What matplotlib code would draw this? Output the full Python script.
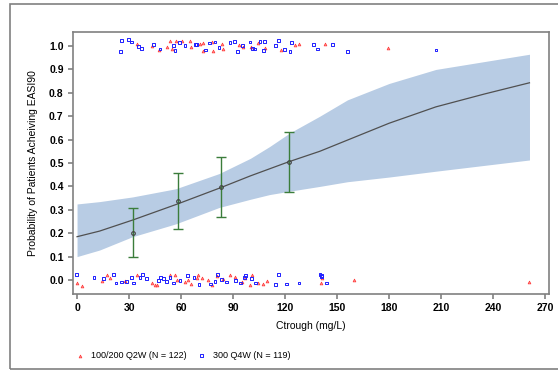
import numpy as np
import matplotlib
matplotlib.use("Agg")
import matplotlib.pyplot as plt
from matplotlib.patches import Rectangle

plt.rcParams['font.family'] = ['Liberation Sans', 'DejaVu Sans']

# model prediction (median) and 95% band
curve_x = [0, 13, 32, 58, 83, 100, 122, 140, 156, 180, 207, 235, 261]
curve_y = [0.185, 0.209, 0.256, 0.325, 0.395, 0.445, 0.505, 0.55, 0.598, 0.67, 0.74, 0.795, 0.843]
band_x = [0, 13, 32, 57, 82, 100, 111, 123, 140, 156, 180, 207, 261]
band_hi = [0.325, 0.335, 0.355, 0.39, 0.455, 0.52, 0.57, 0.63, 0.70, 0.77, 0.84, 0.90, 0.965]
band_lo = [0.10, 0.128, 0.185, 0.24, 0.31, 0.345, 0.365, 0.38, 0.40, 0.42, 0.44, 0.465, 0.513]

# observed probability by exposure bin
bin_x = [32.3, 58.3, 82.9, 122.5]
bin_mean = [0.202, 0.338, 0.399, 0.506]
bin_lo = [0.097, 0.217, 0.271, 0.377]
bin_hi = [0.306, 0.456, 0.526, 0.634]

# individual responders (jittered around 1) and non-responders (around 0)
q2w_x = [34.8, 43.1, 47.5, 52.1, 53.7, 54.6, 57.1, 60.4, 65.2, 65.6,
         71.0, 72.9, 72.9, 77.7, 78.7, 83.9, 84.4, 93.5, 96.0, 100.4,
         104.6, 108.5, 117.7, 125.8, 128.1, 143.1, 179.6,
         0.2, 2.7, 14.2, 17.5, 19.0, 27.7, 34.4, 43.1, 45.0, 46.3,
         53.6, 56.5, 57.9, 62.3, 64.2, 65.6, 69.0,
         70.0, 72.3, 75.8, 77.7, 80.6, 84.4, 88.3, 91.2, 95.0, 97.0,
         99.8, 101.2, 104.3, 107.5, 109.5, 140.8, 141.2, 160.0, 261.0]
q2w_y = [1.008, 1.001, 0.983, 0.994, 1.020, 0.987, 1.023, 1.020, 1.023, 0.997,
         1.008, 0.980, 1.011, 1.017, 0.980, 1.008, 0.987, 1.005, 0.994, 0.997,
         1.011, 0.991, 0.983, 1.005, 1.008, 1.008, 0.991,
         -0.013, -0.027, -0.006, 0.020, 0.009, -0.006, 0.020, -0.013, -0.023, -0.020,
         0.023, 0.020, 0.001, -0.009, 0.001, -0.017, 0.009,
         0.020, 0.009, 0.001, -0.020, 0.016, 0.006, 0.023, 0.011, -0.009, 0.009,
         -0.020, 0.020, -0.013, -0.017, -0.006, -0.013, 0.009, 0.001, -0.009]

q4w_x = [25.2, 25.8, 29.6, 31.2, 35.4, 37.3, 44.0, 47.9, 55.6, 56.5,
         59.0, 62.3, 68.7, 68.5, 73.9, 76.2, 79.6, 81.9, 88.3, 90.8,
         92.7, 95.4, 99.8, 101.2, 102.3, 105.6, 107.5, 108.1, 114.3, 116.2,
         119.6, 122.9, 123.9, 136.4, 138.9, 147.5, 156.0, 207.1,
         -0.2, 9.8, 15.2, 21.0, 22.5, 25.8, 28.7, 31.5, 32.5, 36.3,
         37.9, 40.2, 46.9, 48.3, 49.8, 51.7, 53.6, 55.6, 59.4, 63.7, 67.5,
         70.4, 76.8, 79.6, 81.2, 83.5, 86.4, 91.2, 94.1, 96.6, 97.3,
         100.8, 103.1, 114.3, 116.2, 121.0, 128.1, 140.2, 140.8, 141.2, 144.0]
q4w_y = [0.976, 1.023, 1.027, 1.017, 0.997, 0.991, 1.008, 0.987, 1.001, 0.980,
         1.015, 1.004, 1.008, 1.008, 0.983, 1.013, 1.017, 0.994, 1.015, 1.020,
         0.977, 1.001, 1.017, 0.990, 0.987, 1.020, 0.980, 1.020, 1.004, 1.023,
         0.984, 0.977, 1.015, 1.005, 0.987, 1.008, 0.977, 0.983,
         0.023, 0.009, 0.006, 0.023, -0.013, -0.009, -0.006, 0.009, -0.013, 0.011,
         0.023, 0.006, -0.003, 0.011, 0.006, -0.006, 0.011, -0.013, -0.003, 0.020, 0.009,
         -0.020, -0.017, -0.006, 0.023, 0.001, -0.009, -0.003, -0.013, 0.009, 0.020,
         0.006, -0.013, -0.020, 0.023, -0.017, -0.013, 0.023, 0.016, 0.020, -0.013]

x_ticks = [0, 30, 60, 90, 120, 150, 180, 210, 240, 270]
y_ticks = [0.0, 0.1, 0.2, 0.3, 0.4, 0.5, 0.6, 0.7, 0.8, 0.9, 1.0]

fig = plt.figure(figsize=(5.58, 3.71), dpi=100)
ax = fig.add_axes([0.1303, 0.2075, 0.8537, 0.7062])

# outer frame around the whole graphic
fig.patches.append(Rectangle((0.018, 0.006), 1.0, 0.983, transform=fig.transFigure,
                             fill=False, edgecolor='#808080', linewidth=1.2))

ax.fill_between(band_x, band_lo, band_hi, color='#b8cce4', linewidth=0, zorder=1)
ax.plot(curve_x, curve_y, color='#505050', linewidth=0.9, zorder=2)

yerr = [np.array(bin_mean) - np.array(bin_lo), np.array(bin_hi) - np.array(bin_mean)]
ax.errorbar(bin_x, bin_mean, yerr=yerr, fmt='none', ecolor='#3b7d3b',
            elinewidth=1.0, capsize=3.3, capthick=1.0, zorder=3)
ax.plot(bin_x, bin_mean, 'o', markersize=2.6, markerfacecolor='none',
        markeredgecolor='#404040', markeredgewidth=0.8, zorder=4)

ax.scatter(q2w_x, q2w_y, marker='^', s=4, facecolor='#ff9999', edgecolor='#ff3333',
           linewidth=0.5, zorder=5, label='100/200 Q2W (N = 122)')
ax.scatter(q4w_x, q4w_y, marker='s', s=4, facecolor='none', edgecolor='#2020ff',
           linewidth=0.7, zorder=5, label='300 Q4W (N = 119)')

ax.set_xlim(-2.5, 272.3)
ax.set_ylim(-0.06, 1.06)
ax.set_xticks(x_ticks)
ax.set_yticks(y_ticks)
ax.set_xticklabels([str(v) for v in x_ticks], fontweight='bold', fontsize=7.5)
ax.set_yticklabels(['%.1f' % v for v in y_ticks], fontweight='bold', fontsize=7.5)
ax.tick_params(direction='out', length=3.5, width=1.2, color='#808080', pad=3)

for s in ax.spines.values():
    s.set_color('#808080')
    s.set_linewidth(1.2)

ax.set_xlabel('Ctrough (mg/L)', fontsize=7.5, labelpad=6)
ax.set_ylabel('Probability of Patients Acheiving EASI90', fontsize=7.5, labelpad=8)

fig.legend(loc='lower left', bbox_to_anchor=(0.12, 0.02), ncol=2, frameon=False,
           fontsize=6.5, handletextpad=0.3, columnspacing=0.6, markerscale=1.0,
           borderaxespad=0)

fig.savefig('out.png', dpi=100)
